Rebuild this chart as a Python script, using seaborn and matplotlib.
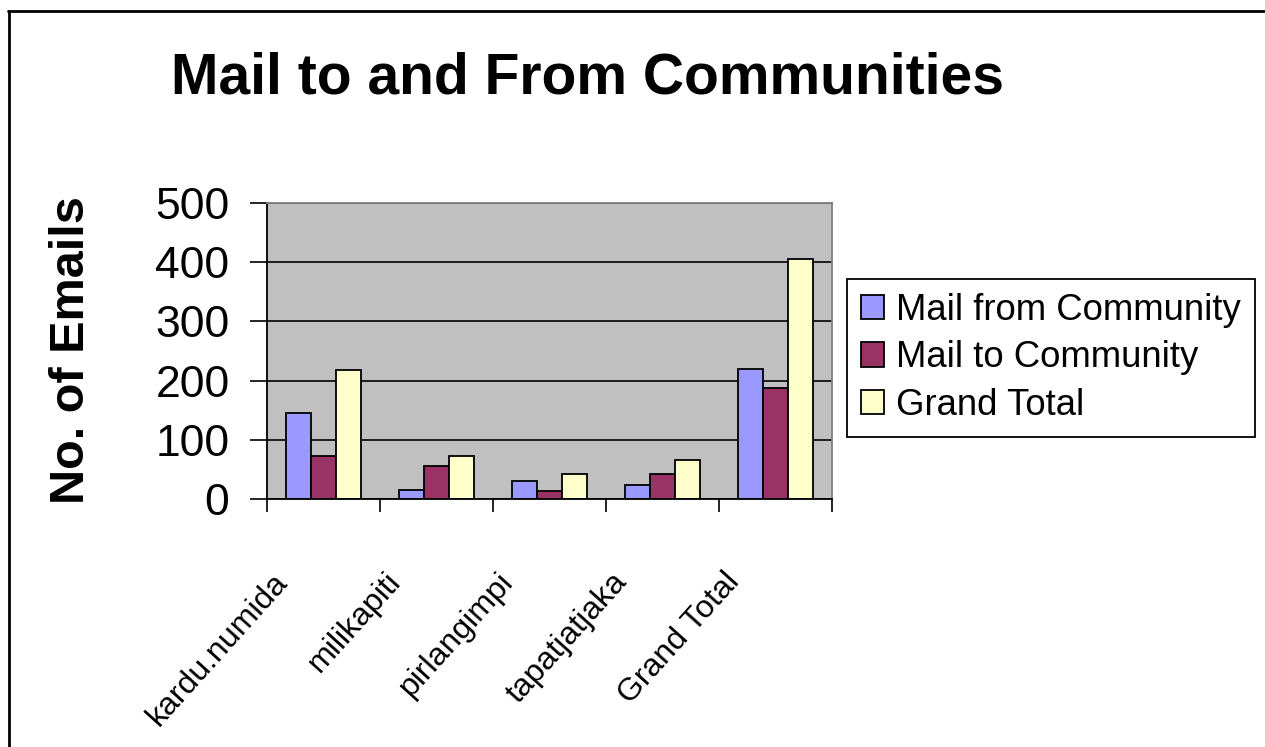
import numpy as np
import pandas as pd
import matplotlib
matplotlib.use("Agg")
import matplotlib.pyplot as plt
import seaborn as sns
from matplotlib.transforms import ScaledTranslation, blended_transform_factory
from matplotlib.lines import Line2D

# ---- data ----
categories = ["kardu.numida", "milikapiti", "pirlangimpi", "tapatjatjaka", "Grand Total"]
series_names = ["Mail from Community", "Mail to Community", "Grand Total"]
mail_from = [145, 16, 30, 23, 219]
mail_to = [73, 56, 13, 43, 188]
grand_total = [218, 73, 43, 66, 405]
y_ticks = [0, 100, 200, 300, 400, 500]
title = "Mail to and From Communities"
y_label = "No. of Emails"

colors = ["#9999FF", "#993366", "#FFFFCC"]

sns.set_theme(style="white")
plt.rcParams['font.family'] = ['Liberation Sans', 'DejaVu Sans']
plt.rcParams['text.color'] = 'black'

df = pd.DataFrame({
    "Community": categories * 3,
    "Series": np.repeat(series_names, len(categories)),
    "Emails": mail_from + mail_to + grand_total,
})

W, H = 1265, 747
fig = plt.figure(figsize=(W / 100, H / 100), dpi=100)
ax = fig.add_axes([267 / W, 1 - 499 / H, 565 / W, 296 / H])

sns.barplot(data=df, x="Community", y="Emails", hue="Series", order=categories,
            hue_order=series_names, palette=colors, width=0.66, edgecolor="black",
            linewidth=1.3, saturation=1, errorbar=None, ax=ax)

ax.set_facecolor("#C0C0C0")
ax.set_xlim(-0.5, len(categories) - 0.5)
ax.set_ylim(0, 500)
ax.set_yticks(y_ticks)
ax.yaxis.grid(True, color="black", linewidth=1.2)
ax.xaxis.grid(False)
ax.set_axisbelow(True)
ax.set_xlabel("")
ax.set_ylabel("")

for s in ["left", "bottom"]:
    ax.spines[s].set_color("black")
    ax.spines[s].set_linewidth(1.3)
for s in ["top", "right"]:
    ax.spines[s].set_color("#808080")
    ax.spines[s].set_linewidth(1.3)

ax.tick_params(axis="y", left=True, direction="out", length=12, width=1.2,
               color="black", pad=15, labelsize=32, labelcolor="black")
ax.set_xticks(np.arange(-0.5, len(categories), 1), minor=True)
ax.tick_params(axis="x", which="minor", bottom=True, direction="out", length=9,
               width=1.2, color="black")
ax.tick_params(axis="x", which="major", bottom=False, length=0)
ax.set_xticks(range(len(categories)))
ax.set_xticklabels([])

# rotated category labels
trans = blended_transform_factory(ax.transData, ax.transAxes) + \
    ScaledTranslation(-0.52, -0.68, fig.dpi_scale_trans)
for i, c in enumerate(categories):
    ax.text(i, 0, c, transform=trans, rotation=48, ha="right", va="top",
            rotation_mode="anchor", fontsize=23, color="black")

# title and y label
fig.text(587.5 / W, 1 - 93 / H, title, ha="center", va="baseline",
         fontsize=41, fontweight="bold", color="black")
fig.text(72 / W, 1 - 350 / H, y_label, ha="center", va="center", rotation=90,
         fontsize=35, fontweight="bold", color="black")

# legend
handles, labels = ax.get_legend_handles_labels()
if ax.get_legend() is not None:
    ax.get_legend().remove()
leg = ax.legend(handles, labels, loc="upper left",
                bbox_to_anchor=(847 / W, 1 - 279 / H), bbox_transform=fig.transFigure,
                frameon=True, fancybox=False, edgecolor="black", framealpha=1,
                facecolor="white", fontsize=26.3, handlelength=0.64, handleheight=0.64,
                handletextpad=0.33, labelspacing=0.34, borderpad=0.38, borderaxespad=0,
                labelcolor="black")
leg.get_frame().set_linewidth(1.3)

# outer frame (left and top edges)
fig.add_artist(Line2D([8.5 / W, 8.5 / W], [0, 1 - 11 / H], transform=fig.transFigure,
                      color="black", linewidth=2))
fig.add_artist(Line2D([8 / W, 1], [1 - 11 / H, 1 - 11 / H], transform=fig.transFigure,
                      color="black", linewidth=2))

fig.savefig("out.png", dpi=100)
